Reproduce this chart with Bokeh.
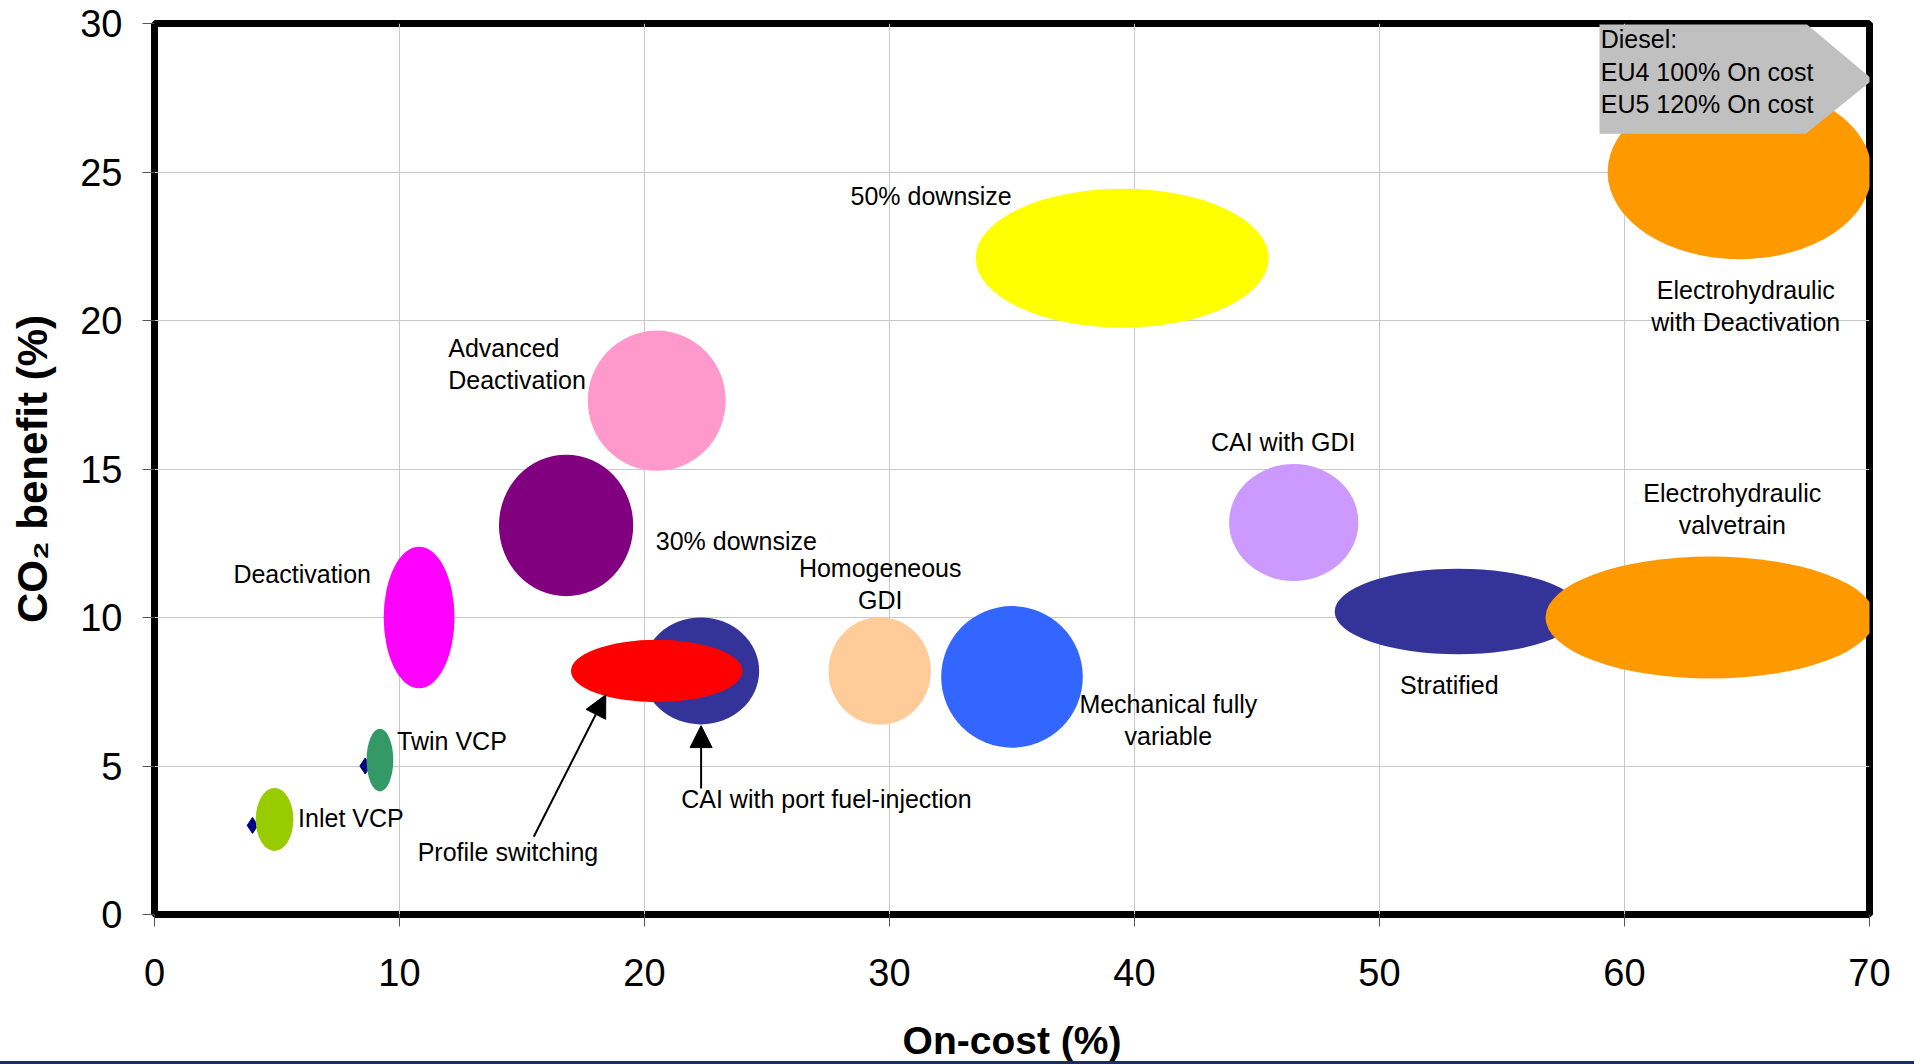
from bokeh.plotting import figure
from bokeh.models import FixedTicker, Arrow, NormalHead, ColumnDataSource, Range1d, InlineStyleSheet
from bokeh.core.properties import value
from bokeh.embed import file_html
from bokeh.resources import INLINE

# Valvetrain / combustion technologies: on-cost vs CO2 benefit, with spread of each estimate
technologies = [
    "Inlet VCP", "Twin VCP", "Deactivation", "30% downsize", "Advanced Deactivation",
    "CAI with port fuel-injection", "Profile switching", "Homogeneous GDI",
    "Mechanical fully variable", "50% downsize", "CAI with GDI", "Stratified",
    "Electrohydraulic valvetrain", "Electrohydraulic with Deactivation",
]
on_cost = [4.9, 9.2, 10.8, 16.8, 20.5, 22.3, 20.5, 29.6, 35.0, 39.5, 46.5, 53.2, 63.5, 64.7]
co2_benefit = [3.2, 5.2, 10.0, 13.1, 17.3, 8.2, 8.2, 8.2, 8.0, 22.1, 13.2, 10.2, 10.0, 25.0]
cost_spread = [1.54, 1.09, 2.89, 5.48, 5.63, 4.76, 7.0, 4.18, 5.78, 11.96, 5.28, 10.06, 13.45, 10.78]
benefit_spread = [2.12, 2.11, 4.77, 4.77, 4.72, 3.6, 2.1, 3.62, 4.77, 4.68, 3.94, 2.88, 4.11, 5.88]
bubble_colors = [
    "#99CC00", "#339966", "#FF00FF", "#800080", "#FF99CC", "#333399", "#FF0000",
    "#FFCC99", "#3366FF", "#FFFF00", "#CC99FF", "#333399", "#FF9900", "#FF9900",
]

# Measured points for the two cam-phasing variants
point_cost = [4.0, 8.6]
point_benefit = [3.0, 5.0]

x_ticks = [0, 10, 20, 30, 40, 50, 60, 70]
y_ticks = [0, 5, 10, 15, 20, 25, 30]

# Label texts and where they sit (anchor x, anchor y, alignment)
label_text = [
    "50% downsize", "Electrohydraulic\nwith Deactivation", "Advanced\nDeactivation",
    "CAI with GDI", "Electrohydraulic\nvalvetrain", "30% downsize", "Homogeneous\nGDI",
    "Deactivation", "Stratified", "Mechanical fully\nvariable", "Twin VCP",
    "CAI with port fuel-injection", "Inlet VCP", "Profile switching",
]
label_x = [31.7, 64.95, 11.99, 46.07, 64.4, 20.46, 29.62, 3.22, 52.85, 41.38, 9.9, 21.5, 5.86, 10.74]
label_y = [24.2, 20.5, 18.53, 15.9, 13.64, 12.58, 11.13, 11.46, 7.73, 6.54, 5.84, 3.9, 3.25, 2.1]
label_align = ["center", "center", "left", "center", "center", "left", "center",
               "left", "center", "center", "left", "left", "left", "left"]

FONT = "Liberation Sans"

# Thin navy strip along the bottom edge of the page
bottom_strip = InlineStyleSheet(css="""
:host { position: relative; }
:host::after {
  content: "";
  position: absolute;
  left: 0; right: 0; bottom: 0;
  height: 3px;
  background: #1F2D5C;
  z-index: 10;
}
""")

p = figure(
    width=1914, height=1064,
    x_range=Range1d(0, 70), y_range=Range1d(0, 30),
    output_backend="svg", toolbar_location=None,
    min_border_left=154, min_border_right=45, min_border_top=23, min_border_bottom=150,
    background_fill_color="white", border_fill_color="white",
    stylesheets=[bottom_strip],
)

# Frame and grid
p.outline_line_color = "black"
p.outline_line_width = 7
p.xgrid.ticker = FixedTicker(ticks=x_ticks)
p.ygrid.ticker = FixedTicker(ticks=y_ticks)
for g in (p.xgrid, p.ygrid):
    g.grid_line_color = "#C8C8C8"
    g.grid_line_width = 1

# Axes
p.xaxis.ticker = FixedTicker(ticks=x_ticks)
p.yaxis.ticker = FixedTicker(ticks=y_ticks)
for ax in (p.xaxis, p.yaxis):
    ax.axis_line_color = None
    ax.major_tick_line_color = "#555555"
    ax.major_tick_in = 0
    ax.major_tick_out = 12
    ax.minor_tick_line_color = None
    ax.major_label_text_font = FONT
    ax.major_label_text_font_size = "38px"
    ax.major_label_text_color = "black"
    ax.axis_label_text_font = FONT
    ax.axis_label_text_font_style = "bold"
    ax.axis_label_text_color = "black"

p.xaxis.axis_label = "On-cost (%)"
p.xaxis.axis_label_text_font_size = "39px"
p.xaxis.major_label_standoff = 32
p.xaxis.axis_label_standoff = 30

p.yaxis.axis_label = "CO\u2082 benefit (%)"
p.yaxis.axis_label_text_font_size = "42px"
p.yaxis.major_label_standoff = 20
p.yaxis.axis_label_standoff = 21

# Measured points sit behind their bubbles
p.scatter(point_cost, point_benefit, marker="diamond", size=16,
          fill_color="#000080", line_color="#000080")

bubbles = ColumnDataSource(dict(
    x=on_cost, y=co2_benefit, w=cost_spread, h=benefit_spread, c=bubble_colors, name=technologies,
))
p.ellipse(x="x", y="y", width="w", height="h", source=bubbles,
          fill_color="c", line_color=None)

# Labels
labels = ColumnDataSource(dict(x=label_x, y=label_y, t=label_text, a=label_align))
p.text(x="x", y="y", text="t", text_align="a", source=labels,
       text_baseline="middle", text_font=value(FONT), text_font_size="25px",
       text_color="black", text_line_height=1.15)

# Arrows pointing at the two overlapping bubbles
p.add_layout(Arrow(end=NormalHead(size=22, fill_color="black", line_color="black"),
                   x_start=15.48, y_start=2.62, x_end=18.42, y_end=7.40,
                   line_width=2, line_color="black"))
p.add_layout(Arrow(end=NormalHead(size=22, fill_color="black", line_color="black"),
                   x_start=22.31, y_start=4.24, x_end=22.31, y_end=6.36,
                   line_width=2, line_color="black"))

# Diesel reference callout
p.patch([58.98, 67.45, 70.14, 67.4, 58.98], [29.97, 29.97, 28.11, 26.29, 26.29],
        fill_color="#C0C0C0", line_color=None)
p.text(x=[59.03], y=[28.38], text=["Diesel:\nEU4 100% On cost\nEU5 120% On cost"],
       text_align="left", text_baseline="middle", text_font=value(FONT),
       text_font_size="25px", text_color="black", text_line_height=1.15)

open("out.html", "w").write(file_html(p, INLINE))
